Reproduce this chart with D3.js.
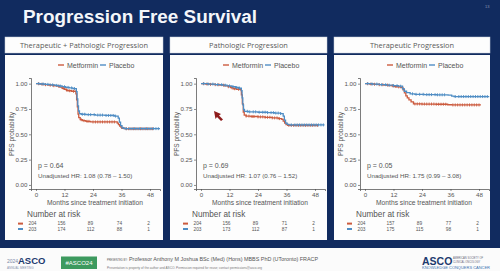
<!DOCTYPE html>
<html><head><meta charset="utf-8">
<script src="https://cdn.jsdelivr.net/npm/d3@7"></script>
<style>
body{margin:0;background:#fff;}
svg{display:block;font-family:"Liberation Sans",Arial,sans-serif;}
</style>
</head><body>
<svg id="c" width="500" height="271"></svg>
<script>
// ---------- DATA ----------
const chartTitle = "Progression Free Survival";
const panelTitles = ["Therapeutic + Pathologic Progression", "Pathologic Progression", "Therapeutic Progression"];
const seriesNames = ["Metformin", "Placebo"];
const seriesColors = ["#cc5b3e", "#4f8dc4"];
const xTicks = [0, 12, 24, 36, 48];
const yTicks = [0, 0.25, 0.5, 0.75, 1];
const pLabels = ["p = 0.64", "p = 0.69", "p = 0.05"];
const hrLabels = ["Unadjusted HR: 1.08 (0.78 \u2013 1.50)", "Unadjusted HR: 1.07 (0.76 \u2013 1.52)", "Unadjusted HR: 1.75 (0.99 \u2013 3.08)"];

// Panel 1: Therapeutic + Pathologic
const p1MetT = [0,1.5,3,5,7,8.5,10,11,12,12.8,13.5,15,16.8,17.1,17.4,17.7,18,18.6,19.5,21,23,34.2,34.7,35.2,35.8,36.5,37.5,49.3];
const p1MetS = [1,0.995,0.99,0.985,0.98,0.975,0.965,0.955,0.945,0.935,0.93,0.925,0.9,0.84,0.77,0.7,0.665,0.645,0.635,0.628,0.622,0.61,0.595,0.58,0.568,0.56,0.555,0.555];
const p1PlaT = [0,2,4,6,8,9.5,11,12.5,14,15.5,17,17.3,17.6,17.9,18.3,19,21,25,29,33,34.6,35.1,35.6,36.2,37,52.2];
const p1PlaS = [1,0.997,0.993,0.988,0.983,0.977,0.97,0.963,0.958,0.952,0.92,0.85,0.78,0.73,0.705,0.698,0.694,0.69,0.686,0.68,0.66,0.62,0.585,0.565,0.556,0.556];
const p1MetC = [1,2.5,4,6,7.5,9.5,11.5,13,14.2,15.8,19,20.2,21.5,22.3,24,25,26,27,28,29,30,31,32,33,36,38,39,40,41,42,43,44,45,46,47,48,49];
const p1PlaC = [1.2,3,5,7,8.7,10.2,12,13.5,15,16.2,19.5,20.5,22,23,24.5,26,27,28,29.5,30.5,31.5,32.5,33.5,38,39.5,40.5,41.5,42.5,43.5,44.5,45.5,46.5,47.5,48.5,49.5,50.5,51.5];
const p1Risk = [[204,156,89,74,2],[203,174,112,88,1]];

// Panel 2: Pathologic
const p2MetT = [0,2,4,6,8,10,11.5,12.5,13.5,15,16.6,17,17.4,17.8,18.2,19,21,24,27,30,32.5,34,34.6,35.2,35.8,36.5,49.3];
const p2MetS = [1,0.997,0.993,0.99,0.985,0.978,0.97,0.96,0.95,0.945,0.94,0.89,0.8,0.72,0.69,0.68,0.676,0.672,0.668,0.662,0.655,0.648,0.63,0.61,0.595,0.588,0.588];
const p2PlaT = [0,3,6,9,11,13,14.5,16,17,17.3,17.6,17.9,18.3,20,24,28,31,33.5,34.6,35.1,35.6,36.3,37,52];
const p2PlaS = [1,0.996,0.99,0.985,0.978,0.97,0.962,0.955,0.93,0.86,0.79,0.745,0.727,0.722,0.718,0.714,0.71,0.705,0.68,0.64,0.61,0.598,0.593,0.593];
const p2MetC = [1,2.5,4,6,7.5,9.5,11.5,13,14.2,15.8,19,20.2,21.5,22.3,24,25,26,27,28,29,30,31,32,33,37,38,39,40,41,42,43,44,45,46,47,48,49];
const p2PlaC = [1.2,3,5,7,8.7,10.2,12,13.5,15,16.2,19.5,20.5,22,23,24.5,26,27,28,29.5,30.5,31.5,32.5,33.5,38,39.5,40.5,41.5,42.5,43.5,44.5,45.5,46.5,47.5,48.5,49.5,50.5,51.5];
const p2Risk = [[204,156,89,71,2],[203,173,112,87,1]];

// Panel 3: Therapeutic
const p3MetT = [0,2,4,6,8,10,12,13.5,15,16,16.6,17.2,17.8,18.5,19.4,20.4,24,30,34.8,36.5,48.8];
const p3MetS = [1,0.997,0.994,0.99,0.986,0.98,0.972,0.968,0.962,0.94,0.91,0.88,0.86,0.84,0.82,0.8,0.799,0.797,0.792,0.79,0.79];
const p3PlaT = [0,3,6,9,12,14,15.8,16.5,17.5,19,21,25,30,35,36.5,37.5,52.3];
const p3PlaS = [1,0.996,0.99,0.985,0.98,0.975,0.95,0.925,0.912,0.9,0.895,0.892,0.89,0.886,0.877,0.873,0.873];
const p3MetC = [1,2.5,4,6,7.5,9.5,11.5,13,14.2,21,22,23,24,25,26,27,28,29,30,31,32,33,34,37,38,39,40,41,42,43,44,45,46,47,48];
const p3PlaC = [1.2,3,5,7,8.7,10.2,12,13.5,15,20,21.5,23,24.5,26,27,28,29.5,30.5,31.5,32.5,33.5,38,39.5,40.5,41.5,42.5,43.5,44.5,45.5,46.5,47.5,48.5,49.5,50.5,51.5];
const p3Risk = [[204,157,89,77,2],[203,175,115,98,1]];

const panels = [
  {t:[p1MetT,p1PlaT], s:[p1MetS,p1PlaS], c:[p1MetC,p1PlaC], risk:p1Risk},
  {t:[p2MetT,p2PlaT], s:[p2MetS,p2PlaS], c:[p2MetC,p2PlaC], risk:p2Risk},
  {t:[p3MetT,p3PlaT], s:[p3MetS,p3PlaS], c:[p3MetC,p3PlaC], risk:p3Risk}
];

// ---------- LAYOUT ----------
const navy = "#112b5f";
const svg = d3.select("#c");
svg.append("rect").attr("width",500).attr("height",248).attr("fill",navy);
svg.append("rect").attr("y",248).attr("width",500).attr("height",23).attr("fill","#fbfbfb");

svg.append("text").attr("x",23).attr("y",22.5).attr("fill","#f4f6fa")
  .attr("font-size",18).attr("font-weight","bold")
  .attr("textLength",234).attr("lengthAdjust","spacingAndGlyphs").text(chartTitle);
svg.append("text").attr("x",485).attr("y",8).attr("fill","#8a97b5").attr("font-size",4).text("13");

const panelX = [5, 170, 334];
const panelW = [158, 157, 156];

panels.forEach((p, i) => {
  const g = svg.append("g").attr("transform", `translate(${panelX[i]},0)`);
  const w = panelW[i];
  // header
  g.append("rect").attr("x",0).attr("y",37).attr("width",w).attr("height",16).attr("fill","#fdfdfd")
    .attr("stroke","#c8cfdc").attr("stroke-width",0.5);
  g.append("text").attr("x",w/2).attr("y",47.8).attr("text-anchor","middle")
    .attr("font-family","'Open Sans',sans-serif").attr("font-size",7.4).attr("fill","#5a5a5a").text(panelTitles[i]);
  // body
  g.append("rect").attr("x",0).attr("y",55).attr("width",w).attr("height",185).attr("fill","#fdfdfd");

  const x = d3.scaleLinear().domain([-2.1, 52.2]).range([26, 155]);
  const y = d3.scaleLinear().domain([-0.04, 1.056]).range([189, 78]);

  // legend
  seriesNames.forEach((n, k) => {
    const lx = [53, 95][k];
    g.append("line").attr("x1",lx).attr("x2",lx+6).attr("y1",65).attr("y2",65)
      .attr("stroke",seriesColors[k]).attr("stroke-width",1.4);
    g.append("text").attr("x",lx+9).attr("y",67.5).attr("font-size",7).attr("fill","#555").text(n);
  });

  // axes
  const xa = g.append("g").attr("transform","translate(0,189)")
    .call(d3.axisBottom(x).tickValues(xTicks).tickSize(2).tickPadding(1.5));
  const ya = g.append("g").attr("transform","translate(26,0)")
    .call(d3.axisLeft(y).tickValues(yTicks).tickSize(2).tickPadding(1.5).tickFormat(d3.format(".2f")));
  [xa, ya].forEach(a => {
    a.select(".domain").attr("stroke","#444").attr("stroke-width",0.7);
    a.selectAll(".tick line").attr("stroke","#444").attr("stroke-width",0.6);
    a.selectAll(".tick text").attr("fill","#555").attr("font-size",6.2).attr("font-family","'Liberation Sans',Arial,sans-serif");
  });

  g.append("text").attr("transform","translate(8.5,134) rotate(-90)").attr("text-anchor","middle")
    .attr("font-size",6.5).attr("fill","#555").text("PFS probability");
  g.append("text").attr("x",90).attr("y",204.5).attr("text-anchor","middle")
    .attr("font-size",6.7).attr("fill","#555").text("Months since treatment initiation");

  // curves
  const line = d3.line().curve(d3.curveStepAfter).x(d => x(d[0])).y(d => y(d[1]));
  [0,1].forEach(k => {
    const pts = p.t[k].map((t, j) => [t, p.s[k][j]]);
    g.append("path").attr("d", line(pts)).attr("fill","none")
      .attr("stroke",seriesColors[k]).attr("stroke-width",1.3);
    const stepAt = t => { let v = 1; p.t[k].forEach((tt, j) => { if (tt <= t) v = p.s[k][j]; }); return v; };
    p.c[k].forEach(ct => {
      const cx = x(ct), cy = y(stepAt(ct));
      g.append("line").attr("x1",cx).attr("x2",cx).attr("y1",cy-1.5).attr("y2",cy+1.5)
        .attr("stroke",seriesColors[k]).attr("stroke-width",0.9);
    });
  });

  // annotations
  g.append("text").attr("x",33).attr("y",167.5).attr("font-size",7).attr("fill","#555").text(pLabels[i]);
  g.append("text").attr("x",33).attr("y",177.5).attr("font-size",6.2).attr("fill","#555").text(hrLabels[i]);

  // risk table
  g.append("text").attr("x",22).attr("y",217).attr("font-size",8.2).attr("fill","#555").text("Number at risk");
  const rx = d3.scaleLinear().domain([0, 48]).range([27.5, 143.5]);
  p.risk.forEach((row, k) => {
    const ry = [223.6, 229][k];
    g.append("rect").attr("x",13).attr("y",ry-1).attr("width",5).attr("height",2).attr("fill",seriesColors[k]);
    row.forEach((v, j) => {
      g.append("text").attr("x",rx(xTicks[j])).attr("y",ry+1.7).attr("text-anchor","middle")
        .attr("font-size",4.8).attr("fill","#555").text(v);
    });
  });
});

// mouse pointer artifact in panel 2
svg.append("path").attr("d","M214,111 L221,114 L219,115.5 L223,119.5 L221,121 L217,117 L215.5,119 Z")
  .attr("fill","#8e1c1c");

// ---------- FOOTER ----------
const f = svg.append("g");
f.append("text").attr("x",7).attr("y",263).attr("font-size",5).attr("fill","#7b8aa8").text("2024");
f.append("text").attr("x",18).attr("y",264).attr("font-size",9.5).attr("font-weight","bold").attr("fill","#1d3a6e").text("ASCO");
f.append("text").attr("x",7).attr("y",268.8).attr("font-size",3).attr("fill","#8a96b0").text("ANNUAL MEETING");
f.append("rect").attr("x",61).attr("y",256.5).attr("width",36).attr("height",12.5).attr("fill","#3d9a5f");
f.append("text").attr("x",79).attr("y",264.6).attr("text-anchor","middle").attr("font-size",6).attr("fill","#fff").text("#ASCO24");
f.append("text").attr("x",107).attr("y",261).attr("font-size",2.6).attr("fill","#555").text("PRESENTED BY:");
f.append("text").attr("x",129).attr("y",261.2).attr("font-size",5).attr("fill","#555")
  .attr("textLength",189).attr("lengthAdjust","spacingAndGlyphs")
  .text("Professor Anthony M Joshua BSc (Med) (Hons) MBBS PhD (UToronto) FRACP");
f.append("text").attr("x",107).attr("y",268.5).attr("font-size",2.6).attr("fill","#777")
  .attr("textLength",155).attr("lengthAdjust","spacingAndGlyphs")
  .text("Presentation is property of the author and ASCO. Permission required for reuse; contact permissions@asco.org");
f.append("text").attr("x",422).attr("y",265).attr("font-size",10.5).attr("font-weight","bold").attr("fill","#1d3a6e").text("ASCO");
f.append("text").attr("x",453).attr("y",259).attr("font-size",2.6).attr("fill","#667").text("AMERICAN SOCIETY OF");
f.append("text").attr("x",453).attr("y",262.5).attr("font-size",2.6).attr("fill","#667").text("CLINICAL ONCOLOGY");
f.append("text").attr("x",422).attr("y",269.3).attr("font-size",2.8).attr("fill","#3a70b0")
  .attr("textLength",68).attr("lengthAdjust","spacingAndGlyphs").text("KNOWLEDGE CONQUERS CANCER");
</script>
</body></html>
